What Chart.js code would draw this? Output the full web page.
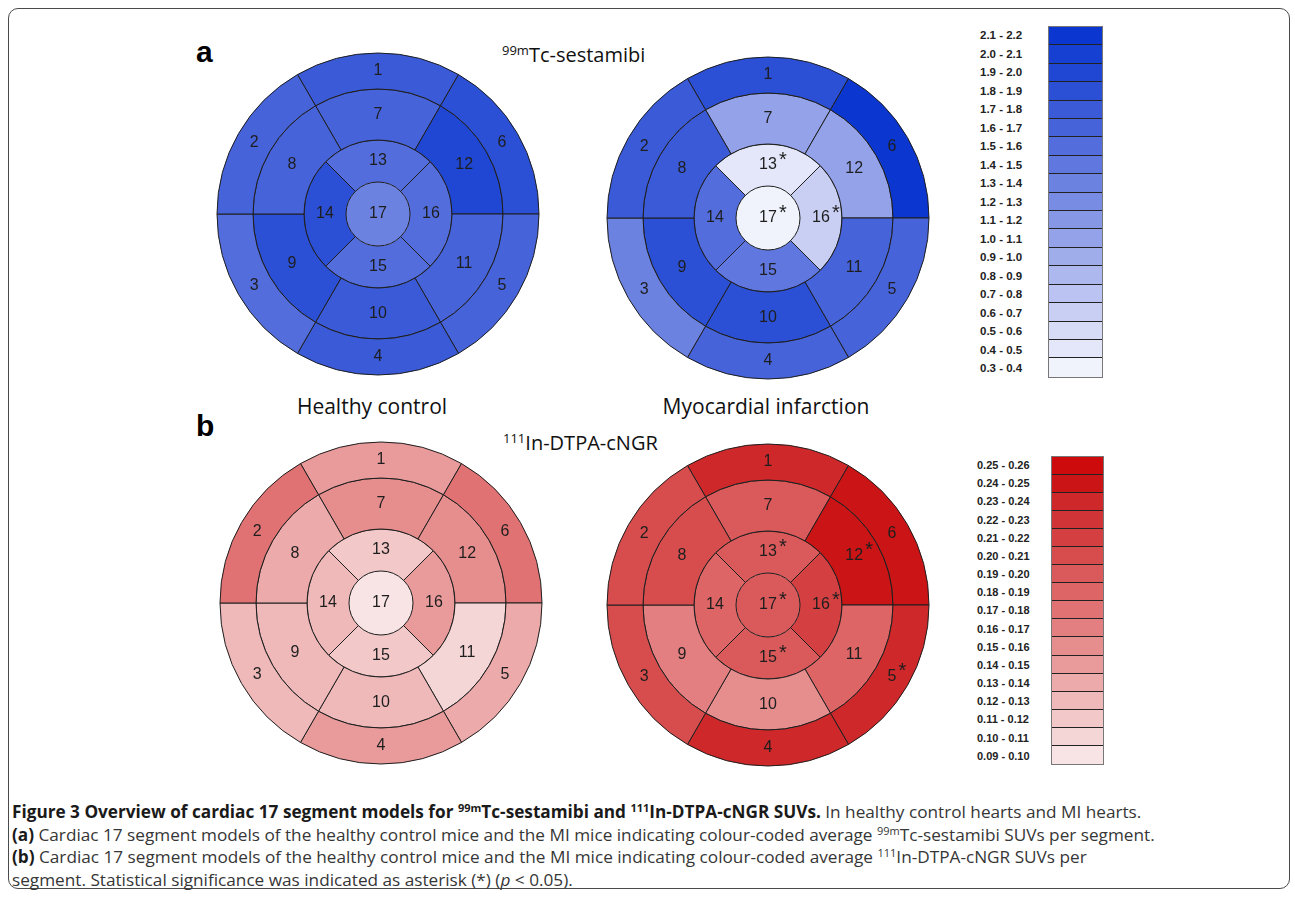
<!DOCTYPE html>
<html>
<head>
<meta charset="utf-8">
<script src="https://cdn.jsdelivr.net/npm/chart.js@4.4.1/dist/chart.umd.min.js"></script>
<style>
  html, body { margin: 0; padding: 0; background: #fff; }
  body { width: 1295px; height: 897px; position: relative; overflow: hidden; font-family: "Liberation Sans", Arial, sans-serif; }
  .frame { position: absolute; left: 8px; top: 8px; width: 1282px; height: 881px; border: 1.5px solid #4a4a4a; border-radius: 10px; box-sizing: border-box; }
  .abs { position: absolute; white-space: nowrap; }
  .panel { font-weight: bold; font-size: 30px; line-height: 30px; color: #000; }
  .title { font-family: "Open Sans", sans-serif; font-size: 20px; line-height: 20px; color: #111; }
  .sup { position: relative; top: -7px; font-size: 13px; }
  .group { font-family: "Open Sans", sans-serif; font-size: 21px; line-height: 20px; color: #111; width: 260px; text-align: center; }
  canvas { position: absolute; }
  .legend { position: absolute; }
  .legend .lab { position: absolute; font-weight: bold; color: #222; white-space: nowrap; }
  .legend .cells { position: absolute; border: 1px solid #777; box-sizing: border-box; }
  .legend .cell { box-sizing: border-box; border-bottom: 1px solid #222; }
  .legend .cell:last-child { border-bottom: none; }
  .caption { position: absolute; left: 12px; top: 801px; font-family: "Open Sans", sans-serif; font-size: 17.2px; line-height: 22.5px; color: #363636; white-space: nowrap; }
  .caption div { height: 22.5px; }
  .caption b { color: #1a1a1a; }
  .caption .s { position: relative; top: -6px; font-size: 11px; line-height: 0; }
</style>
</head>
<body>
<div class="frame"></div>

<div class="abs panel" style="left:196px;top:37px">a</div>
<div class="abs title" style="left:502px;top:45px"><span class="sup">99m</span>Tc-sestamibi</div>
<div class="abs group" style="left:242px;top:396px">Healthy control</div>
<div class="abs group" style="left:636px;top:396px">Myocardial infarction</div>
<div class="abs panel" style="left:196px;top:411px">b</div>
<div class="abs title" style="left:503px;top:433px"><span class="sup">111</span>In-DTPA-cNGR</div>

<canvas id="tcHealthy" width="340" height="340" style="left:208px;top:44px"></canvas>
<canvas id="tcMI" width="340" height="340" style="left:598px;top:48px"></canvas>
<canvas id="ngrHealthy" width="340" height="340" style="left:211px;top:433px"></canvas>
<canvas id="ngrMI" width="340" height="340" style="left:598px;top:435px"></canvas>

<div class="legend" id="blueLegend"></div>
<div class="legend" id="redLegend"></div>

<div class="caption">
  <div><b>Figure 3 Overview of cardiac 17 segment models for <span class="s">99m</span>Tc-sestamibi and <span class="s">111</span>In-DTPA-cNGR SUVs.</b> In healthy control hearts and MI hearts.</div>
  <div><b>(a)</b> Cardiac 17 segment models of the healthy control mice and the MI mice indicating colour-coded average <span class="s">99m</span>Tc-sestamibi SUVs per segment.</div>
  <div><b>(b)</b> Cardiac 17 segment models of the healthy control mice and the MI mice indicating colour-coded average <span class="s">111</span>In-DTPA-cNGR SUVs per</div>
  <div>segment. Statistical significance was indicated as asterisk (*) (<i>p</i> &lt; 0.05).</div>
</div>

<script>
// colour scales, top to bottom as in the legends
const blueLabels = ["2.1 - 2.2", "2.0 - 2.1", "1.9 - 2.0", "1.8 - 1.9", "1.7 - 1.8", "1.6 - 1.7", "1.5 - 1.6",
  "1.4 - 1.5", "1.3 - 1.4", "1.2 - 1.3", "1.1 - 1.2", "1.0 - 1.1", "0.9 - 1.0", "0.8 - 0.9", "0.7 - 0.8",
  "0.6 - 0.7", "0.5 - 0.6", "0.4 - 0.5", "0.3 - 0.4"]
const blueColors = ["#0b36cf", "#1540d2", "#1f47d3", "#2b50d5", "#3a5ad8", "#4663da", "#536ddc",
  "#5f77df", "#6c82e1", "#798ce4", "#8697e6", "#93a2e9", "#a0adeb", "#adb8ee", "#bac3f1",
  "#c8cff3", "#d6dbf6", "#e3e7f9", "#f0f2fc"]

const redLabels = ["0.25 - 0.26", "0.24 - 0.25", "0.23 - 0.24", "0.22 - 0.23", "0.21 - 0.22", "0.20 - 0.21",
  "0.19 - 0.20", "0.18 - 0.19", "0.17 - 0.18", "0.16 - 0.17", "0.15 - 0.16", "0.14 - 0.15", "0.13 - 0.14",
  "0.12 - 0.13", "0.11 - 0.12", "0.10 - 0.11", "0.09 - 0.10"]
const redColors = ["#cd0a0c", "#cb1416", "#ce282a", "#d13436", "#d44042", "#d74d4e",
  "#da595a", "#dd6566", "#e07273", "#e37f80", "#e68d8e", "#e99b9c", "#ecaaab",
  "#efb9ba", "#f2c8c8", "#f5d6d6", "#f8e4e4"]

// average SUV per segment, segments 1..17
const tcHealthy = [1.75, 1.65, 1.55, 1.75, 1.65, 1.85, 1.65, 1.65, 1.85, 1.75, 1.65, 1.95, 1.55, 1.85, 1.55, 1.55, 1.35]
const tcMI = [1.85, 1.75, 1.35, 1.65, 1.65, 2.15, 1.05, 1.75, 1.85, 1.85, 1.65, 1.05, 0.45, 1.55, 1.45, 0.65, 0.35]
const ngrHealthy = [0.145, 0.175, 0.125, 0.14, 0.13, 0.175, 0.15, 0.13, 0.125, 0.12, 0.105, 0.15, 0.115, 0.125, 0.11, 0.14, 0.095]
const ngrMI = [0.235, 0.205, 0.205, 0.235, 0.235, 0.245, 0.195, 0.205, 0.165, 0.155, 0.185, 0.245, 0.195, 0.185, 0.195, 0.215, 0.195]

// segments marked significant (*)
const tcMIStars = [13, 16, 17]
const ngrMIStars = [5, 12, 13, 15, 16, 17]

// ring layout of the 17 segment model, clockwise from the start angle
const outerRing = [1, 6, 5, 4, 3, 2]
const midRing = [7, 12, 11, 10, 9, 8]
const innerRing = [13, 16, 15, 14]
const apexRing = [17]

function binColor(v, labels, colors) {
  for (let i = 0; i < labels.length; i++) {
    const [lo, hi] = labels[i].split(" - ").map(Number)
    if (v >= lo && v < hi) return colors[i]
  }
  return colors[colors.length - 1]
}

const segLabels = {
  id: "segLabels",
  afterDatasetsDraw(chart, args, opts) {
    const ctx = chart.ctx
    ctx.save()
    ctx.fillStyle = "#1e1e1e"
    ctx.textAlign = "center"
    ctx.textBaseline = "middle"
    chart.data.datasets.forEach((ds, di) => {
      chart.getDatasetMeta(di).data.forEach((arc, i) => {
        const seg = ds.segments[i]
        const p = ds.segments.length === 1 ? { x: arc.x, y: arc.y } : arc.getCenterPoint()
        const txt = String(seg)
        ctx.font = "16px 'Liberation Sans', Arial, sans-serif"
        ctx.fillText(txt, p.x, p.y)
        if (opts.stars.includes(seg)) {
          const w = ctx.measureText(txt).width
          ctx.font = "20px 'Liberation Sans', Arial, sans-serif"
          ctx.fillText("*", p.x + w / 2 + 6, p.y - 5)
        }
      })
    })
    ctx.restore()
  }
}

function ring(segments, values, labels, colors, rotation, weight, border) {
  return {
    segments,
    data: segments.map(() => 1),
    backgroundColor: segments.map(s => binColor(values[s - 1], labels, colors)),
    borderColor: "#1e1e1e",
    borderWidth: border,
    rotation,
    weight,
    hoverOffset: 0,
    offset: 0
  }
}

function bullseye(id, values, labels, colors, stars) {
  new Chart(document.getElementById(id), {
    type: "doughnut",
    data: {
      labels: outerRing.map(String),
      datasets: [
        ring(outerRing, values, labels, colors, -30, 36, 1),
        ring(midRing, values, labels, colors, -30, 51, 1),
        ring(innerRing, values, labels, colors, -45, 42, 1),
        ring(apexRing, values, labels, colors, 0, 32, 0)
      ]
    },
    options: {
      responsive: false,
      animation: false,
      events: [],
      cutout: 0,
      radius: 161,
      layout: { padding: 0 },
      plugins: {
        legend: { display: false },
        tooltip: { enabled: false },
        segLabels: { stars }
      }
    },
    plugins: [segLabels]
  })
}

bullseye("tcHealthy", tcHealthy, blueLabels, blueColors, [])
bullseye("tcMI", tcMI, blueLabels, blueColors, tcMIStars)
bullseye("ngrHealthy", ngrHealthy, redLabels, redColors, [])
bullseye("ngrMI", ngrMI, redLabels, redColors, ngrMIStars)

function colourKey(id, labels, colors, box, labelX, fontSize) {
  const el = document.getElementById(id)
  const rowH = box.h / labels.length
  const cells = document.createElement("div")
  cells.className = "cells"
  Object.assign(cells.style, { left: box.x + "px", top: box.y + "px", width: box.w + "px", height: box.h + "px" })
  labels.forEach((lab, i) => {
    const c = document.createElement("div")
    c.className = "cell"
    c.style.height = (box.h - 2) / labels.length + "px"
    c.style.background = colors[i]
    cells.appendChild(c)
    const t = document.createElement("div")
    t.className = "lab"
    t.textContent = lab
    Object.assign(t.style, {
      left: labelX + "px", top: box.y + i * rowH + "px",
      height: rowH + "px", lineHeight: rowH + "px", fontSize: fontSize + "px"
    })
    el.appendChild(t)
  })
  el.appendChild(cells)
}

colourKey("blueLegend", blueLabels, blueColors, { x: 1048, y: 26, w: 55, h: 352 }, 980, 11.5)
colourKey("redLegend", redLabels, redColors, { x: 1051, y: 456, w: 53, h: 309 }, 977, 11)
</script>
</body>
</html>
